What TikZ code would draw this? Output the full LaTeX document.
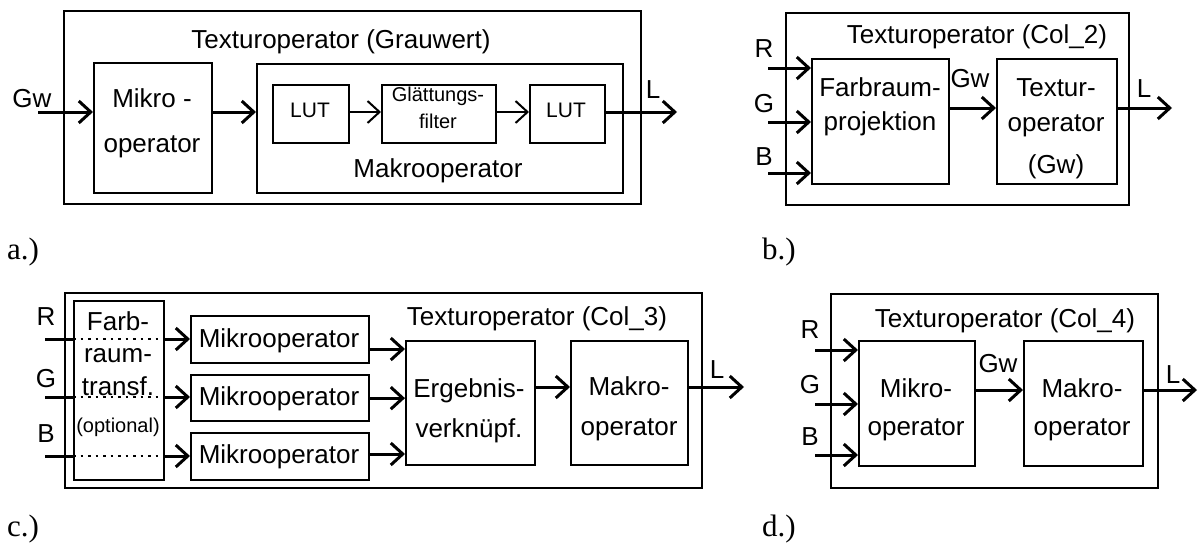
\documentclass[tikz,border=0pt]{standalone}
\usepackage{fontspec}
\setmainfont{Liberation Sans}
\newfontfamily\labfont{Liberation Serif}
\usetikzlibrary{arrows.meta}
\begin{document}
\begin{tikzpicture}[x=1pt,y=-1pt,
  box/.style={draw, line width=2.3pt, inner sep=0pt, anchor=north west},
  txt/.style={anchor=base, inner sep=0pt, font=\fontsize{26}{30}\selectfont},
  smalltxt/.style={anchor=base, inner sep=0pt, font=\fontsize{20}{24}\selectfont},
  lab/.style={anchor=base west, inner sep=0pt, font=\labfont\fontsize{31}{36}\selectfont},
  arr/.style={line width=3pt, -{Straight Barb[length=12pt,width=22pt]}},
  thinarr/.style={line width=2pt, -{Straight Barb[length=12pt,width=22pt]}},
  plain/.style={line width=3pt},
  dots/.style={line width=2pt, dash pattern=on 2.5pt off 5pt}]
\useasboundingbox (0,0) rectangle (1201,544);

% ---------------- panel a ----------------
\node[box, minimum width=577pt, minimum height=193pt] (aouter) at (63,10) {};
\node[box, minimum width=118pt, minimum height=130pt] (amikro) at (93,62) {};
\node[box, minimum width=366pt, minimum height=129pt] (amakro) at (256,63) {};
\node[box, minimum width=76pt, minimum height=58pt] (alut1) at (272,84) {};
\node[box, minimum width=114pt, minimum height=58pt] (aglatt) at (381,84) {};
\node[box, minimum width=75pt, minimum height=58pt] (alut2) at (529,84) {};
\node[txt] (atitle) at (341,48) {Texturoperator (Grauwert)};
\node[txt] (agw) at (32,107) {Gw};
\node[txt] (amikrot1) at (152,107) {Mikro -};
\node[txt] (amikrot2) at (152,152) {operator};
\node[txt] (amakrot) at (438,177) {Makrooperator};
\node[anchor=base, inner sep=0pt, font=\fontsize{21}{24}\selectfont] (alut1t) at (310,117) {LUT};
\node[anchor=base, inner sep=0pt, font=\fontsize{21}{24}\selectfont] (alut2t) at (566,117) {LUT};
\node[anchor=base, inner sep=0pt, font=\fontsize{20}{22}\selectfont] (aglatt1) at (438,101) {Glättungs-};
\node[anchor=base, inner sep=0pt, font=\fontsize{20}{22}\selectfont] (aglatt2) at (438,128) {filter};
\node[txt] (al) at (653,98) {L};
\coordinate (ain) at (38,112);
\coordinate (aout) at (677,112);
\draw[arr] (ain) -- (ain -| amikro.west);
\draw[arr] (amikro.east |- ain) -- (amakro.west |- ain);
\draw[thinarr] (alut1.east |- ain) -- (aglatt.west |- ain);
\draw[thinarr] (aglatt.east |- ain) -- (alut2.west |- ain);
\draw[arr] (alut2.east |- ain) -- (aout);
\node[lab] (alab) at (7,259) {a.)};

% ---------------- panel b ----------------
\node[box, minimum width=343pt, minimum height=192pt] (bouter) at (785,12) {};
\node[box, minimum width=137pt, minimum height=125pt] (bfarb) at (811,58) {};
\node[box, minimum width=120pt, minimum height=125pt] (btex) at (996,58) {};
\node[txt] (btitle) at (977,43) {Texturoperator (Col\_2)};
\node[txt] (br) at (764,57) {R};
\node[txt] (bg) at (764,112) {G};
\node[txt] (bb) at (764,165) {B};
\node[txt] (bfarb1) at (880,96) {Farbraum-};
\node[txt] (bfarb2) at (880,130) {projektion};
\node[txt] (btex1) at (1056,96) {Textur-};
\node[txt] (btex2) at (1056,131) {operator};
\node[txt] (btex3) at (1056,173) {(Gw)};
\node[txt] (bgw) at (970,87) {Gw};
\node[txt] (bl) at (1144,97) {L};
\coordinate (bin1) at (768,68);
\coordinate (bin2) at (768,122);
\coordinate (bin3) at (768,173);
\coordinate (bmid) at (960,108);
\coordinate (bout) at (1172,108);
\draw[arr] (bin1) -- (bin1 -| bfarb.west);
\draw[arr] (bin2) -- (bin2 -| bfarb.west);
\draw[arr] (bin3) -- (bin3 -| bfarb.west);
\draw[arr] (bfarb.east |- bmid) -- (btex.west |- bmid);
\draw[arr] (btex.east |- bmid) -- (bout);
\node[lab] (blab) at (762,259) {b.)};

% ---------------- panel c ----------------
\node[box, minimum width=637pt, minimum height=195pt] (couter) at (64,292) {};
\node[box, minimum width=90pt, minimum height=179pt] (cfarb) at (73,300) {};
\node[box, minimum width=178pt, minimum height=47pt] (cm1) at (190,315) {};
\node[box, minimum width=178pt, minimum height=46pt] (cm2) at (190,374) {};
\node[box, minimum width=178pt, minimum height=47pt] (cm3) at (190,432) {};
\node[box, minimum width=129pt, minimum height=124pt] (cerg) at (405,340) {};
\node[box, minimum width=117pt, minimum height=124pt] (cmakro) at (570,340) {};
\node[txt] (ctitle) at (537,325) {Texturoperator (Col\_3)};
\node[txt] (cr) at (46,325) {R};
\node[txt] (cg) at (46,387) {G};
\node[txt] (cb) at (46,442) {B};
\node[txt] (cfarb1) at (118,330) {Farb-};
\node[txt] (cfarb2) at (118,362) {raum-};
\node[txt] (cfarb3) at (118,395) {transf.};
\node[smalltxt] (cfarb4) at (118,432) {(optional)};
\node[txt] (cm1t) at (279,347) {Mikrooperator};
\node[txt] (cm2t) at (279,405) {Mikrooperator};
\node[txt] (cm3t) at (279,463) {Mikrooperator};
\node[txt] (cerg1) at (469,397) {Ergebnis-};
\node[txt] (cerg2) at (469,437) {verknüpf.};
\node[txt] (cmak1) at (629,395) {Makro-};
\node[txt] (cmak2) at (629,435) {operator};
\node[txt] (cl) at (717,378) {L};
\coordinate (cin1) at (45,339);
\coordinate (cin2) at (45,397);
\coordinate (cin3) at (45,456);
\coordinate (cy1) at (380,349);
\coordinate (cy3) at (380,454);
\coordinate (cmid) at (550,387);
\coordinate (cout) at (744,387);
\foreach \i in {1,2,3}{
  \draw[plain] (cin\i) -- (cin\i -| cfarb.west);
  \draw[dots] (cin\i -| cfarb.west) -- (cin\i -| cfarb.east);
  \draw[arr] (cin\i -| cfarb.east) -- (cin\i -| cm1.west);
}
\draw[arr] (cm1.east |- cy1) -- (cerg.west |- cy1);
\draw[arr] (cm2.east) -- (cerg.west |- cm2.east);
\draw[arr] (cm3.east |- cy3) -- (cerg.west |- cy3);
\draw[arr] (cerg.east |- cmid) -- (cmakro.west |- cmid);
\draw[arr] (cmakro.east |- cmid) -- (cout);
\node[lab] (clab) at (7,536) {c.)};

% ---------------- panel d ----------------
\node[box, minimum width=327pt, minimum height=194pt] (douter) at (830,293) {};
\node[box, minimum width=116pt, minimum height=125pt] (dmikro) at (858,340) {};
\node[box, minimum width=119pt, minimum height=125pt] (dmakro) at (1023,340) {};
\node[txt] (dtitle) at (1005,327) {Texturoperator (Col\_4)};
\node[txt] (dr) at (810,338) {R};
\node[txt] (dg) at (810,393) {G};
\node[txt] (db) at (810,445) {B};
\node[txt] (dmik1) at (916,397) {Mikro-};
\node[txt] (dmik2) at (916,435) {operator};
\node[txt] (dmak1) at (1082,397) {Makro-};
\node[txt] (dmak2) at (1082,435) {operator};
\node[txt] (dgw) at (998,372) {Gw};
\node[txt] (dl) at (1173,383) {L};
\coordinate (din1) at (815,350);
\coordinate (din2) at (815,404);
\coordinate (din3) at (815,455);
\coordinate (dmid) at (1000,390);
\coordinate (dout) at (1197,390);
\draw[arr] (din1) -- (din1 -| dmikro.west);
\draw[arr] (din2) -- (din2 -| dmikro.west);
\draw[arr] (din3) -- (din3 -| dmikro.west);
\draw[arr] (dmikro.east |- dmid) -- (dmakro.west |- dmid);
\draw[arr] (dmakro.east |- dmid) -- (dout);
\node[lab] (dlab) at (762,536) {d.)};
\end{tikzpicture}
\end{document}
